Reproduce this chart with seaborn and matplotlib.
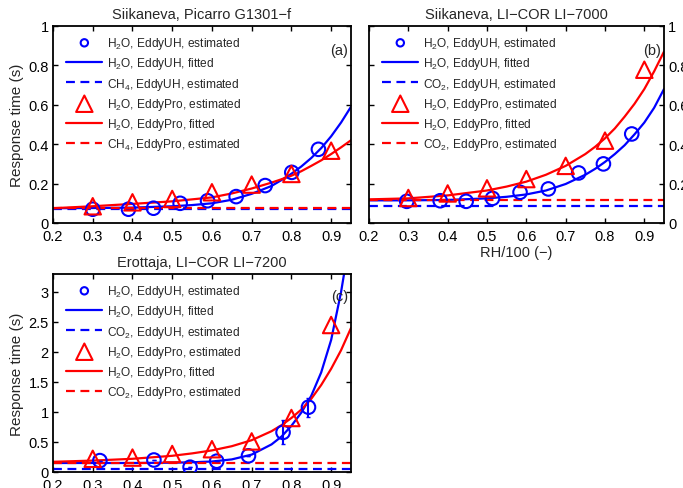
import pandas as pd
import seaborn as sns
import matplotlib.pyplot as plt
from matplotlib.ticker import FuncFormatter

BLUE = "#0000ff"
RED = "#ff0000"
DASH = (0, (4, 2.5))

rh_fit = [0.2, 0.3, 0.4, 0.5, 0.55, 0.6, 0.65, 0.7, 0.75, 0.775, 0.8,
          0.825, 0.85, 0.875, 0.9, 0.925, 0.95]

# (a) Siikaneva, Picarro G1301-f
a_uh_rh = [0.30, 0.39, 0.453, 0.52, 0.589, 0.661, 0.734, 0.801, 0.868]
a_uh_tau = [0.07, 0.07, 0.075, 0.10, 0.113, 0.134, 0.19, 0.257, 0.374]
a_pro_rh = [0.3, 0.4, 0.5, 0.6, 0.7, 0.8, 0.9]
a_pro_tau = [0.085, 0.105, 0.122, 0.156, 0.195, 0.249, 0.367]
a_uh_fit = [0.075, 0.076, 0.078, 0.085, 0.091, 0.10, 0.118, 0.148, 0.188, 0.218, 0.25,
            0.287, 0.33, 0.38, 0.44, 0.51, 0.59]
a_pro_fit = [0.075, 0.085, 0.097, 0.11, 0.12, 0.13, 0.15, 0.175, 0.205, 0.222, 0.24,
             0.263, 0.29, 0.318, 0.35, 0.384, 0.42]
a_gas_uh = 0.073
a_gas_pro = 0.077

# (b) Siikaneva, LI-COR LI-7000
b_uh_rh = [0.296, 0.381, 0.447, 0.514, 0.584, 0.656, 0.733, 0.796, 0.868]
b_uh_tau = [0.11, 0.113, 0.11, 0.125, 0.156, 0.173, 0.254, 0.30, 0.452]
b_pro_rh = [0.3, 0.4, 0.5, 0.6, 0.7, 0.8, 0.9]
b_pro_tau = [0.127, 0.15, 0.176, 0.223, 0.29, 0.418, 0.778]
b_uh_fit = [0.115, 0.115, 0.117, 0.125, 0.133, 0.145, 0.165, 0.198, 0.245, 0.275, 0.31,
            0.35, 0.395, 0.45, 0.51, 0.585, 0.68]
b_pro_fit = [0.12, 0.125, 0.14, 0.165, 0.185, 0.21, 0.245, 0.29, 0.35, 0.387, 0.43,
             0.48, 0.54, 0.605, 0.68, 0.77, 0.87]
b_gas_uh = 0.088
b_gas_pro = 0.117

# (c) Erottaja, LI-COR LI-7200
c_uh_rh = [0.318, 0.454, 0.545, 0.612, 0.692, 0.779, 0.843]
c_uh_tau = [0.19, 0.2, 0.08, 0.18, 0.27, 0.66, 1.08]
c_uh_err = [0, 0, 0, 0, 0, 0.2, 0.16]
c_pro_rh = [0.3, 0.4, 0.5, 0.6, 0.7, 0.8, 0.9]
c_pro_tau = [0.22, 0.24, 0.30, 0.38, 0.51, 0.9, 2.45]
c_uh_fit = [0.15, 0.15, 0.15, 0.155, 0.162, 0.175, 0.21, 0.29, 0.46, 0.59, 0.77,
            0.99, 1.27, 1.66, 2.2, 3.0, 4.0]
c_pro_fit = [0.17, 0.19, 0.22, 0.27, 0.31, 0.36, 0.43, 0.53, 0.68, 0.78, 0.9,
             1.04, 1.22, 1.45, 1.72, 2.03, 2.4]
c_gas_uh = 0.05
c_gas_pro = 0.15


def panel(ax, gas, uh_rh, uh_tau, pro_rh, pro_tau, uh_fit, pro_fit, gas_uh, gas_pro, uh_err=None):
    sub = {"H2O": "H$_2$O", "CH4": "CH$_4$", "CO2": "CO$_2$"}
    sns.scatterplot(x=uh_rh, y=uh_tau, ax=ax, marker="o", s=95, facecolors="none",
                    edgecolor=BLUE, linewidth=1.5, zorder=4,
                    label=sub["H2O"] + ", EddyUH, estimated")
    sns.lineplot(x=rh_fit, y=uh_fit, ax=ax, color=BLUE, lw=1.6,
                 label=sub["H2O"] + ", EddyUH, fitted")
    ax.axhline(gas_uh, color=BLUE, lw=1.6, ls=DASH, label=sub[gas] + ", EddyUH, estimated")
    sns.scatterplot(x=pro_rh, y=pro_tau, ax=ax, marker="^", s=140, facecolors="none",
                    edgecolor=RED, linewidth=1.5, zorder=4,
                    label=sub["H2O"] + ", EddyPro, estimated")
    sns.lineplot(x=rh_fit, y=pro_fit, ax=ax, color=RED, lw=1.6,
                 label=sub["H2O"] + ", EddyPro, fitted")
    ax.axhline(gas_pro, color=RED, lw=1.6, ls=DASH, label=sub[gas] + ", EddyPro, estimated")
    if uh_err is not None:
        ax.errorbar(uh_rh, uh_tau, yerr=uh_err, fmt="none", ecolor=BLUE, elinewidth=1.5,
                    capsize=1.5, zorder=3)

    leg = ax.legend(loc="upper left", bbox_to_anchor=(0.015, 1.0), frameon=False,
                    fontsize=8.6, handlelength=3.0, handletextpad=0.4, labelspacing=0.36,
                    borderaxespad=0.35)
    leg.legend_handles[0].set_sizes([28])
    leg.legend_handles[3].set_sizes([140])

    ax.set_xlim(0.2, 0.95)
    ax.set_xticks([0.2, 0.3, 0.4, 0.5, 0.6, 0.7, 0.8, 0.9])
    fmt = FuncFormatter(lambda v, p: f"{v:g}")
    ax.xaxis.set_major_formatter(fmt)
    ax.yaxis.set_major_formatter(fmt)
    ax.tick_params(direction="in", top=True, right=True, length=3.5, width=1,
                   labelsize=10.5, pad=3)
    ax.tick_params(axis="x", pad=4)
    for s in ax.spines.values():
        s.set_linewidth(1.3)
        s.set_visible(True)


sns.set_style("ticks")
plt.rcParams["font.family"] = ["Liberation Sans", "DejaVu Sans"]
plt.rcParams["mathtext.fontset"] = "custom"
plt.rcParams["mathtext.rm"] = "Liberation Sans"
plt.rcParams["mathtext.default"] = "regular"
plt.rcParams["axes.edgecolor"] = "black"
plt.rcParams["xtick.color"] = "black"
plt.rcParams["ytick.color"] = "black"

fig = plt.figure(figsize=(6.83, 4.89), dpi=100)
W, H = 683, 489
ax_a = fig.add_axes([53 / W, 1 - 224 / H, 298 / W, 197 / H])
ax_b = fig.add_axes([369 / W, 1 - 224 / H, 295 / W, 197 / H])
ax_c = fig.add_axes([53 / W, 1 - 473 / H, 298 / W, 198 / H])

panel(ax_a, "CH4", a_uh_rh, a_uh_tau, a_pro_rh, a_pro_tau, a_uh_fit, a_pro_fit, a_gas_uh, a_gas_pro)
ax_a.set_ylim(0, 1)
ax_a.set_yticks([0, 0.2, 0.4, 0.6, 0.8, 1])
ax_a.set_title("Siikaneva, Picarro G1301\u2212f", fontsize=10.5, pad=6)
ax_a.set_ylabel("Response time (s)", fontsize=11, labelpad=3)
ax_a.text(0.99, 0.88, "(a)", transform=ax_a.transAxes, ha="right", va="center", fontsize=10.5)

panel(ax_b, "CO2", b_uh_rh, b_uh_tau, b_pro_rh, b_pro_tau, b_uh_fit, b_pro_fit, b_gas_uh, b_gas_pro)
ax_b.set_ylim(0, 1)
ax_b.set_yticks([0, 0.2, 0.4, 0.6, 0.8, 1])
ax_b.tick_params(labelleft=False, labelright=True)
ax_b.set_title("Siikaneva, LI\u2212COR LI\u22127000", fontsize=10.5, pad=6)
ax_b.set_xlabel("RH/100 (\u2212)", fontsize=10.5, labelpad=2)
ax_b.text(0.99, 0.88, "(b)", transform=ax_b.transAxes, ha="right", va="center", fontsize=10.5)

panel(ax_c, "CO2", c_uh_rh, c_uh_tau, c_pro_rh, c_pro_tau, c_uh_fit, c_pro_fit, c_gas_uh, c_gas_pro,
      uh_err=c_uh_err)
ax_c.set_ylim(0, 3.3)
ax_c.set_yticks([0, 0.5, 1, 1.5, 2, 2.5, 3])
ax_c.set_title("Erottaja, LI\u2212COR LI\u22127200", fontsize=10.5, pad=6)
ax_c.set_ylabel("Response time (s)", fontsize=11, labelpad=3)
ax_c.text(0.99, 0.89, "(c)", transform=ax_c.transAxes, ha="right", va="center", fontsize=10.5)

plt.savefig("out.png", dpi=100)
